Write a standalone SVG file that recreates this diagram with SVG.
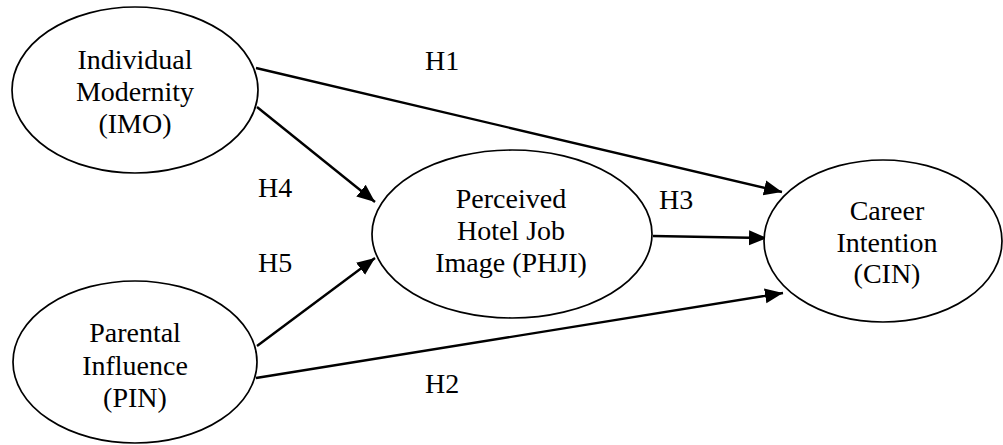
<svg xmlns="http://www.w3.org/2000/svg" width="1003" height="445" viewBox="0 0 1003 445">
  <style>
    .node ellipse { fill: #ffffff; stroke: #000000; stroke-width: 1.7; }
    .node text { font-family: "Liberation Serif", "Times New Roman", serif; font-size: 28px; fill: #000000; text-anchor: middle; }
    .label { font-family: "Liberation Serif", "Times New Roman", serif; font-size: 28px; fill: #000000; }
    .edge { fill: none; stroke: #000000; stroke-width: 2.4; marker-end: url(#arrow); }
  </style>
  <defs>
    <marker id="arrow" markerUnits="userSpaceOnUse" markerWidth="20" markerHeight="18" viewBox="0 0 20 18" refX="18" refY="9" orient="auto">
      <path d="M0,1.5 L18,9 L0,16.5 Z" fill="#000000"/>
    </marker>
  </defs>
  <rect width="1003" height="445" fill="#ffffff"/>

  <!-- connectors -->
  <g id="connectors">
    <line class="edge" x1="256" y1="68" x2="782" y2="192"/>
    <line class="edge" x1="257" y1="107" x2="375" y2="202"/>
    <line class="edge" x1="257" y1="346" x2="375" y2="258"/>
    <line class="edge" x1="653" y1="236" x2="767" y2="238"/>
    <line class="edge" x1="256" y1="378" x2="783" y2="293"/>
  </g>

  <!-- hypothesis labels -->
  <g id="labels">
    <text class="label" x="425" y="70">H1</text>
    <text class="label" x="258" y="197">H4</text>
    <text class="label" x="258" y="272">H5</text>
    <text class="label" x="659" y="209">H3</text>
    <text class="label" x="425" y="393">H2</text>
  </g>

  <g id="node-imo" class="node">
    <ellipse cx="135" cy="90" rx="123" ry="83"/>
    <text x="135" y="69">Individual</text>
    <text x="135" y="101">Modernity</text>
    <text x="135" y="133">(IMO)</text>
  </g>

  <g id="node-pin" class="node">
    <ellipse cx="135" cy="362" rx="122" ry="81"/>
    <text x="135" y="342">Parental</text>
    <text x="135" y="375">Influence</text>
    <text x="135" y="407">(PIN)</text>
  </g>

  <g id="node-phji" class="node">
    <ellipse cx="512" cy="234" rx="140" ry="84"/>
    <text x="511" y="208">Perceived</text>
    <text x="511" y="240">Hotel Job</text>
    <text x="511" y="272">Image (PHJI)</text>
  </g>

  <g id="node-cin" class="node">
    <ellipse cx="883" cy="241" rx="119" ry="81"/>
    <text x="887" y="220">Career</text>
    <text x="887" y="252">Intention</text>
    <text x="887" y="283">(CIN)</text>
  </g>
</svg>
